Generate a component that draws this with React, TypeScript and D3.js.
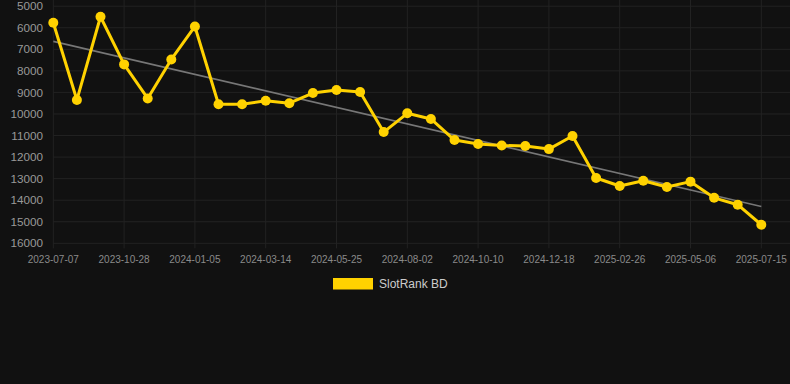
import React from "react";
import * as d3 from "d3";

const dates = [
  "2023-07-07","2023-08-14","2023-09-21","2023-10-28","2023-11-15","2023-12-10","2024-01-05",
  "2024-01-28","2024-02-20","2024-03-14","2024-04-06","2024-04-30","2024-05-25","2024-06-17",
  "2024-07-10","2024-08-02","2024-08-25","2024-09-17","2024-10-10","2024-11-02","2024-11-25",
  "2024-12-18","2025-01-10","2025-02-03","2025-02-26","2025-03-21","2025-04-13","2025-05-06",
  "2025-05-29","2025-06-22","2025-07-15"
];
const ranks = [
  5770, 9350, 5490, 7700, 9280, 7470, 5940, 9550, 9550, 9390, 9500, 9030, 8890, 8980, 10840,
  9970, 10230, 11210, 11390, 11460, 11490, 11630, 11020, 12970, 13340, 13100, 13390, 13140,
  13890, 14210, 15140
];
const yTicks = [5000, 6000, 7000, 8000, 9000, 10000, 11000, 12000, 13000, 14000, 15000, 16000];
const seriesName = "SlotRank BD";

const W = 790, H = 384;
const left = 53.3, right = 761.3, plotRight = 790;
const top = 0, y0 = 6.2, y1 = 243.3;
const COLOR = "#FFD200";

export default function App() {
  const x = d3.scalePoint<string>().domain(dates).range([left, right]);
  const y = d3.scaleLinear().domain([5000, 16000]).range([y0, y1]);

  // linear regression trend
  const n = ranks.length;
  const idx = d3.range(n);
  const mx = d3.mean(idx)!;
  const my = d3.mean(ranks)!;
  const slope = d3.sum(idx, (i) => (i - mx) * (ranks[i] - my)) / d3.sum(idx, (i) => (i - mx) ** 2);
  const icpt = my - slope * mx;
  const trend = (i: number) => icpt + slope * i;

  const line = d3.line<number>().x((_, i) => x(dates[i])!).y((v) => y(v));
  const labelDates = dates.filter((_, i) => i % 3 === 0);

  return (
    <div style={{ position: "absolute", left: 0, top: 0, width: W, height: H }}>
      <svg width={W} height={H} style={{ display: "block", fontFamily: "Arial, 'Liberation Sans', sans-serif" }}>
        <rect x={0} y={0} width={W} height={H} fill="#111111" />
        {yTicks.map((t) => (
          <line key={"h" + t} x1={left} x2={plotRight} y1={y(t)} y2={y(t)} stroke="#222222" strokeWidth={1} />
        ))}
        {labelDates.map((d) => (
          <line key={"v" + d} x1={x(d)} x2={x(d)} y1={top} y2={y1 + 5} stroke="#222222" strokeWidth={1} />
        ))}
        {yTicks.map((t) => (
          <text key={"yl" + t} x={43} y={y(t)} dy="0.35em" textAnchor="end" fontSize={11.7} fill="#999999">
            {t}
          </text>
        ))}
        {labelDates.map((d) => (
          <text key={"xl" + d} x={x(d)} y={262.5} textAnchor="middle" fontSize={10} fill="#8a8a8a">
            {d}
          </text>
        ))}
        <line
          x1={x(dates[0])}
          x2={x(dates[n - 1])}
          y1={y(trend(0))}
          y2={y(trend(n - 1))}
          stroke="#777777"
          strokeWidth={1.6}
        />
        <path d={line(ranks)!} fill="none" stroke={COLOR} strokeWidth={3} strokeLinejoin="round" />
        {ranks.map((v, i) => (
          <circle key={"c" + i} cx={x(dates[i])} cy={y(v)} r={5} fill={COLOR} />
        ))}
        <rect x={333} y={278} width={40} height={11.5} fill={COLOR} />
        <text x={379} y={284} dy="0.35em" fontSize={12} fill="#cccccc">
          {seriesName}
        </text>
      </svg>
    </div>
  );
}
